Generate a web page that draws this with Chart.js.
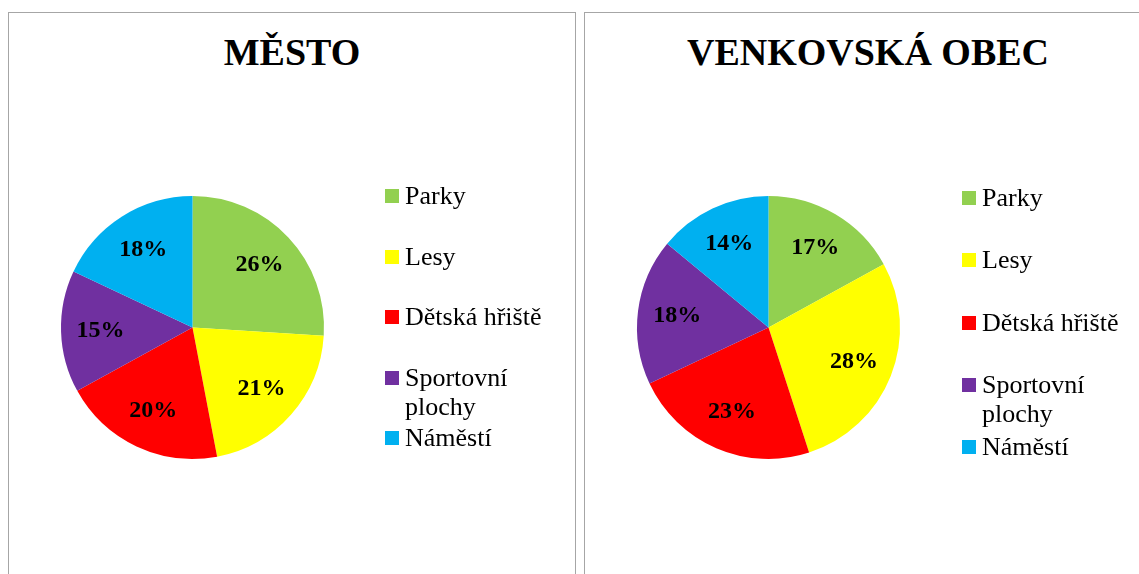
<!DOCTYPE html>
<html lang="cs">
<head>
<meta charset="utf-8">
<title>Město / Venkovská obec</title>
<script src="https://cdn.jsdelivr.net/npm/chart.js@4/dist/chart.umd.min.js"></script>
<style>
  html, body { margin: 0; padding: 0; background: #fff; overflow: hidden; }
  body { width: 1139px; height: 574px; position: relative; font-family: "Liberation Serif", "Times New Roman", serif; }
  .panel {
    position: absolute; top: 12px; width: 566px; height: 600px;
    border: 1px solid #a6a6a6; box-sizing: content-box;
  }
  .panel canvas { position: absolute; left: 0; top: 0; }
  .title {
    position: absolute; left: 0; top: 20px; width: 566px; text-align: center;
    font-weight: bold; font-size: 38px; line-height: 38px; color: #000;
  }
  .legend { position: absolute; margin: 0; padding: 0; list-style: none; }
  .legend li {
    position: relative; padding-left: 20px; width: 150px;
    font-size: 26px; line-height: 29px; color: #000;
  }
  .legend li span {
    position: absolute; left: 0; top: 8px; width: 14px; height: 14px;
  }
</style>
</head>
<body>
<div class="panel" id="panel-mesto" style="left:8px">
  <div class="title">MĚSTO</div>
  <canvas id="chart-mesto" width="566" height="561"></canvas>
  <ul class="legend" id="legend-mesto" style="left:376px; top:168px"></ul>
</div>
<div class="panel" id="panel-obec" style="left:584px">
  <div class="title">VENKOVSKÁ OBEC</div>
  <canvas id="chart-obec" width="566" height="561"></canvas>
  <ul class="legend" id="legend-obec" style="left:377px; top:170px"></ul>
</div>
<script>
// kategorie (stejne pro oba grafy)
const categories = ['Parky', 'Lesy', 'Dětská hřiště', 'Sportovní plochy', 'Náměstí'];
const colors = ['#92D050', '#FFFF00', '#FF0000', '#7030A0', '#00B0F0'];

// podily v procentech
const mestoValues = [26, 21, 20, 15, 18];
const obecValues = [17, 28, 23, 18, 14];

// popisky procent uvnitr vyseci
const percentLabels = {
  id: 'percentLabels',
  afterDatasetsDraw(chart) {
    const ctx = chart.ctx;
    const meta = chart.getDatasetMeta(0);
    const values = chart.data.datasets[0].data;
    ctx.save();
    ctx.font = 'bold 24px "Liberation Serif", "Times New Roman", serif';
    ctx.fillStyle = '#000';
    ctx.textAlign = 'center';
    ctx.textBaseline = 'middle';
    meta.data.forEach((arc, i) => {
      const p = arc.getProps(['x', 'y', 'startAngle', 'endAngle', 'outerRadius'], true);
      const mid = (p.startAngle + p.endAngle) / 2;
      const r = p.outerRadius * 0.7;
      ctx.fillText(values[i] + '%', p.x + Math.cos(mid) * r, p.y + Math.sin(mid) * r);
    });
    ctx.restore();
  }
};

function buildLegend(chart, listId, rowHeight) {
  const ul = document.getElementById(listId);
  const ds = chart.data.datasets[0];
  chart.data.labels.forEach((label, i) => {
    const li = document.createElement('li');
    li.style.height = rowHeight + 'px';
    const box = document.createElement('span');
    box.style.background = ds.backgroundColor[i];
    li.appendChild(box);
    li.appendChild(document.createTextNode(label));
    ul.appendChild(li);
  });
}

function makePie(canvasId, values) {
  return new Chart(document.getElementById(canvasId), {
    type: 'pie',
    data: {
      labels: categories,
      datasets: [{
        data: values,
        backgroundColor: colors,
        borderWidth: 0
      }]
    },
    options: {
      responsive: false,
      animation: false,
      layout: {
        padding: { left: 52, top: 183, right: 251, bottom: 115 }
      },
      plugins: {
        legend: { display: false },
        tooltip: { enabled: false },
        title: { display: false }
      }
    },
    plugins: [percentLabels]
  });
}

const mestoChart = makePie('chart-mesto', mestoValues);
const obecChart = makePie('chart-obec', obecValues);

buildLegend(mestoChart, 'legend-mesto', 60.6);
buildLegend(obecChart, 'legend-obec', 62.3);
</script>
</body>
</html>
